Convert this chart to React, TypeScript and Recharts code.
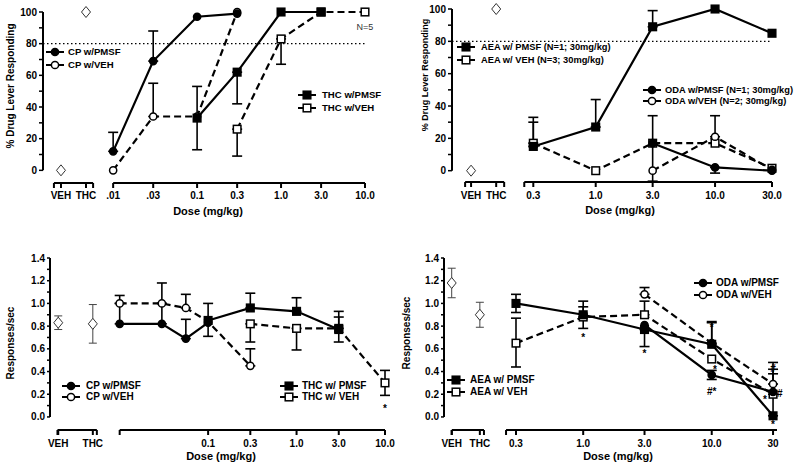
import {
  ComposedChart,
  Line,
  Scatter,
  XAxis,
  YAxis,
  ErrorBar,
  ReferenceLine,
  Legend,
} from "recharts";

const FONT = '"Liberation Sans", Arial, Helvetica, sans-serif';

type Pt = { dose: number; v: number; err?: [number, number]; text?: string; side?: string; plain?: boolean };

// build point rows from parallel arrays (lo/hi = one-sided SEM lengths)
const pts = (dose: number[], v: number[], lo: number[] = [], hi: number[] = []): Pt[] =>
  dose.map((d, i) => {
    const l = lo[i] ?? 0;
    const h = hi[i] ?? 0;
    return l || h ? { dose: d, v: v[i], err: [l, h] } : { dose: d, v: v[i] };
  });

// ---------- A: CP55,940 / THC, % drug lever responding
const aCtrlDose = [0.00239, 0.00475]; // x where the VEH / THC control points sit
const aCtrl = [0, 100];
const aCpDose = [0.01, 0.03, 0.1, 0.3];
const aCpPmsf = [12, 69, 97, 99];
const aCpPmsfHi = [12, 19, 0, 0];
const aCpVeh = [0, 34, 34, 100];
const aCpVehHi = [0, 21, 0, 0];
const aThcPmsfDose = [0.1, 0.3, 1, 3];
const aThcPmsf = [33, 62, 100, 100];
const aThcPmsfLo = [20, 20, 0, 0];
const aThcPmsfHi = [20, 0, 0, 0];
const aThcVehDose = [0.3, 1, 3, 10];
const aThcVeh = [26, 83, 100, 100];
const aThcVehLo = [17, 16, 0, 0];
const aDoseTicks = [0.01, 0.03, 0.1, 0.3, 1, 3, 10];
const aDoseLabels = [".01", ".03", "0.1", "0.3", "1.0", "3.0", "10.0"];

// ---------- B: AEA / ODA, % drug lever responding
const bCtrlDose = [0.0903, 0.1466];
const bCtrl = [0, 100];
const bDose = [0.3, 1, 3, 10, 30];
const bAeaPmsf = [15, 27, 89, 100, 85];
const bAeaPmsfHi = [15, 17, 10, 0, 0];
const bAeaVeh = [17, 0, 17, 17, 1.5];
const bAeaVehHi = [16, 0, 0, 0, 0];
const bOdaDose = [3, 10, 30];
const bOdaPmsf = [17, 2, 0];
const bOdaPmsfLo = [23.5, 3.5, 0];
const bOdaPmsfHi = [17, 0, 0];
const bOdaVeh = [0, 21, 0.5];
const bOdaVehHi = [0, 13, 0];
const bDoseTicks = [0.3, 1, 3, 10, 30];
const bDoseLabels = ["0.3", "1.0", "3.0", "10.0", "30.0"];

// ---------- C: CP55,940 / THC, response rate
const cCtrlDose = [0.00202, 0.00497];
const cCtrl = [0.83, 0.82];
const cCtrlErr = [0.06, 0.17];
const cCpPmsfDose = [0.01, 0.03, 0.056, 0.1];
const cCpPmsf = [0.82, 0.82, 0.69, 0.83];
const cCpPmsfHi = [0.18, 0.18, 0.17, 0];
const cCpVehDose = [0.01, 0.03, 0.056, 0.1, 0.3];
const cCpVeh = [1.0, 1.0, 0.96, 0.84, 0.45];
const cCpVehHi = [0.07, 0.18, 0.12, 0, 0.15];
const cThcPmsfDose = [0.1, 0.3, 1, 3];
const cThcPmsf = [0.85, 0.96, 0.93, 0.77];
const cThcPmsfLo = [0.14, 0, 0, 0.11];
const cThcPmsfHi = [0.15, 0.13, 0.12, 0.11];
const cThcVehDose = [0.3, 1, 3, 10];
const cThcVeh = [0.82, 0.78, 0.78, 0.3];
const cThcVehLo = [0.16, 0.19, 0, 0.11];
const cThcVehHi = [0, 0, 0.15, 0.11];
const cDoseTicks = [0.1, 0.3, 1, 3, 10];
const cDoseLabels = ["0.1", "0.3", "1.0", "3.0", "10.0"];

// ---------- D: AEA / ODA, response rate
const dCtrlDose = [0.0948, 0.157];
const dCtrl = [1.18, 0.9];
const dCtrlErr = [0.13, 0.11];
const dDose = [0.3, 1, 3, 10, 30];
const dAeaPmsf = [1.0, 0.9, 0.77, 0.64, 0.01];
const dAeaPmsfLo = [0.08, 0.12, 0.15, 0, 0];
const dAeaPmsfHi = [0.08, 0.12, 0, 0.2, 0.37];
const dAeaVeh = [0.65, 0.88, 0.9, 0.51, 0.2];
const dAeaVehLo = [0.21, 0, 0, 0, 0];
const dAeaVehHi = [0.22, 0.09, 0.12, 0, 0.22];
const dOdaDose = [3, 10, 30];
const dOdaPmsf = [0.81, 0.37, 0.22];
const dOdaPmsfLo = [0, 0.04, 0];
const dOdaPmsfHi = [0, 0.04, 0];
const dOdaVeh = [1.08, 0.65, 0.29];
const dOdaVehHi = [0.06, 0.18, 0.19];
const dDoseTicks = [0.3, 1, 3, 10, 30];
const dDoseLabels = ["0.3", "1.0", "3.0", "10.0", "30"];
const dNotes: Pt[] = [
  { dose: 1, v: 0.72, text: "*" },
  { dose: 3, v: 0.58, text: "*" },
  { dose: 10, v: 0.81, text: "*" },
  { dose: 10.6, v: 0.44, text: "*" },
  { dose: 10, v: 0.23, text: "#*" },
  { dose: 26, v: 0.17, text: "*" },
  { dose: 30, v: 0.21, text: "#", side: "right" },
  { dose: 30, v: 0.43, text: "#" },
  { dose: 30, v: -0.05, text: "*" },
];

const pctTicks = [0, 10, 20, 30, 40, 50, 60, 70, 80, 90, 100];
const rateTicks = [0, 0.1, 0.2, 0.3, 0.4, 0.5, 0.6, 0.7, 0.8, 0.9, 1.0, 1.1, 1.2, 1.3, 1.4];

type Shape = "circle" | "square";
type Series = { name: string; data: Pt[]; shape: Shape; filled: boolean; dashed: boolean };
type TickSpec = { v: number; label: string; line: boolean };
type LegendGroup = { x: number; y: number; gap: number; textX: number; items: Series[] };

function marker(kind: string, filled: boolean, cx: number, cy: number, key?: string | number) {
  const fill = filled ? "#000" : "#fff";
  if (kind === "circle")
    return <circle key={key} cx={cx} cy={cy} r={3.6} fill={fill} stroke="#000" strokeWidth={1.5} />;
  if (kind === "square")
    return <rect key={key} x={cx - 3.8} y={cy - 3.8} width={7.6} height={7.6} fill={fill} stroke="#000" strokeWidth={1.5} />;
  return (
    <path key={key} d={`M${cx},${cy - 5.5}L${cx + 4.5},${cy}L${cx},${cy + 5.5}L${cx - 4.5},${cy}Z`} fill="#fff" stroke="#333" strokeWidth={1} />
  );
}

const dotFor = (s: Series) => (p: any) =>
  p.cx == null ? <g key={p.index} /> : marker(s.shape, s.filled, p.cx, p.cy, p.index);

const diamond = (p: any) => marker("diamond", false, p.cx, p.cy);

const note = (p: any) => {
  const a: Pt = p.payload;
  const right = a.side === "right";
  const dy = a.plain ? 3.5 : a.text === "*" ? 5.7 : 3.8;
  return (
    <text
      x={p.cx + (right ? 4 : 0)}
      y={p.cy + dy}
      textAnchor={right ? "start" : "middle"}
      fontSize={a.plain ? 9 : 10}
      fontWeight={a.plain ? 400 : 700}
      fill={a.plain ? "#333" : "#000"}
      stroke="none"
    >
      {a.text}
    </text>
  );
};

const axisTicks = (ctrlDose: number[], ends: number[], mainStart: number | null, doses: number[], labels: string[]): TickSpec[] => [
  { v: ends[0], label: "", line: true },
  { v: ctrlDose[0], label: "VEH", line: true },
  { v: ctrlDose[1], label: "THC", line: true },
  { v: ends[1], label: "", line: true },
  ...(mainStart != null ? [{ v: mainStart, label: "", line: true }] : []),
  ...doses.map((v, i) => ({ v, label: labels[i], line: true })),
];

const tickRenderer = (specs: TickSpec[], dy: number) => (p: any) => {
  const s = specs[p.index];
  if (!s) return <g />;
  return (
    <g>
      {s.line && <line x1={p.x} x2={p.x} y1={p.y} y2={p.y + 5} stroke="#000" strokeWidth={2} />}
      {s.label && (
        <text x={p.x} y={p.y + dy} textAnchor="middle" fontSize={10} fontWeight={700} fill="#000">
          {s.label}
        </text>
      )}
    </g>
  );
};

function LegendIcon({ s }: { s: Series }) {
  return (
    <svg width={18} height={12} style={{ display: "block" }}>
      {s.dashed ? (
        <>
          <line x1={0} x2={5} y1={6} y2={6} stroke="#000" strokeWidth={2} />
          <line x1={13} x2={18} y1={6} y2={6} stroke="#000" strokeWidth={2} />
        </>
      ) : (
        <line x1={0} x2={18} y1={6} y2={6} stroke="#000" strokeWidth={2} />
      )}
      {marker(s.shape, s.filled, 9, 6)}
    </svg>
  );
}

function LegendBlock({ groups, size }: { groups: LegendGroup[]; size: number }) {
  return (
    <div style={{ position: "relative", width: 0, height: 0 }}>
      {groups.flatMap((g, gi) =>
        g.items.map((s, i) => {
          const cy = g.y + i * g.gap;
          return (
            <div key={`${gi}-${i}`}>
              <div style={{ position: "absolute", left: g.x, top: cy - 6 }}>
                <LegendIcon s={s} />
              </div>
              <div
                style={{
                  position: "absolute",
                  left: g.textX,
                  top: cy - 7,
                  lineHeight: "14px",
                  fontSize: size,
                  fontWeight: 700,
                  whiteSpace: "nowrap",
                  color: "#000",
                }}
              >
                {s.name}
              </div>
            </div>
          );
        })
      )}
    </div>
  );
}

type PanelCfg = {
  left: number;
  top: number;
  margin: { top: number; right: number; bottom: number; left: number };
  yWidth: number;
  xHeight: number;
  xDomain: [number, number];
  yDomain: [number, number];
  yTicks: number[];
  yFmt: (v: number) => string;
  yTickSize: number;
  yTop: number;
  ticks: TickSpec[];
  tickDy: number;
  segs: [number, number][];
  crit?: number;
  series: Series[];
  ctrl: Pt[];
  notes: Pt[];
  yTitle: { text: string; x: number; y: number; size: number };
  xTitle: { x: number; y: number };
  legend: LegendGroup[];
  legendSize: number;
};

function Panel({ c }: { c: PanelCfg }) {
  const yLabel = () => (
    <text
      x={c.yTitle.x}
      y={c.yTitle.y}
      transform={`rotate(-90 ${c.yTitle.x} ${c.yTitle.y})`}
      textAnchor="middle"
      dominantBaseline="central"
      fontSize={c.yTitle.size}
      fontWeight={700}
      fill="#000"
    >
      {c.yTitle.text}
    </text>
  );
  const xLabel = () => (
    <text x={c.xTitle.x} y={c.xTitle.y} textAnchor="middle" fontSize={11} fontWeight={700} fill="#000">
      Dose (mg/kg)
    </text>
  );
  const x0 = c.xDomain[0];
  const y0 = c.yDomain[0];
  return (
    <div style={{ position: "absolute", left: c.left, top: c.top }}>
      <ComposedChart width={400} height={233} margin={c.margin}>
        <XAxis
          type="number"
          dataKey="dose"
          scale="log"
          domain={c.xDomain}
          ticks={c.ticks.map((t) => t.v)}
          interval={0}
          axisLine={false}
          tickLine={false}
          tickSize={0}
          tickMargin={0}
          height={c.xHeight}
          tick={tickRenderer(c.ticks, c.tickDy)}
          label={xLabel}
        />
        <YAxis
          type="number"
          domain={c.yDomain}
          ticks={c.yTicks}
          interval={0}
          width={c.yWidth}
          axisLine={false}
          tickLine={{ stroke: "#000", strokeWidth: 1.5 }}
          tickSize={c.yTickSize}
          tickMargin={2}
          tick={{ fill: "#000", fontSize: 10, fontWeight: 700 }}
          tickFormatter={c.yFmt}
          label={yLabel}
        />
        <ReferenceLine
          segment={[{ x: x0, y: 0 }, { x: x0, y: c.yTop }]}
          stroke="#000"
          strokeWidth={2}
          ifOverflow="visible"
        />
        {c.segs.map((s, i) => (
          <ReferenceLine
            key={`seg${i}`}
            segment={[{ x: s[0], y: y0 }, { x: s[1], y: y0 }]}
            stroke="#000"
            strokeWidth={2}
            ifOverflow="visible"
          />
        ))}
        {c.crit != null && (
          <ReferenceLine y={c.crit} stroke="#000" strokeWidth={1.2} strokeDasharray="1.5 2.5" />
        )}
        {c.series.map((s) => (
          <Line
            key={s.name}
            data={s.data}
            dataKey="v"
            name={s.name}
            stroke="#000"
            strokeWidth={2.2}
            strokeDasharray={s.dashed ? "7 4" : undefined}
            dot={dotFor(s)}
            activeDot={false}
            legendType="none"
            isAnimationActive={false}
          >
            <ErrorBar dataKey="err" direction="y" width={5} stroke="#000" strokeWidth={1.6} />
          </Line>
        ))}
        <Scatter data={c.ctrl} dataKey="v" shape={diamond} fill="#fff" legendType="none" isAnimationActive={false}>
          <ErrorBar dataKey="err" direction="y" width={4} stroke="#444" strokeWidth={1} />
        </Scatter>
        {c.notes.length > 0 && (
          <Scatter data={c.notes} dataKey="v" shape={note} fill="#000" legendType="none" isAnimationActive={false} />
        )}
        <Legend
          verticalAlign="middle"
          align="center"
          layout="horizontal"
          wrapperStyle={{ left: 0, top: 0, width: 0, height: 0 }}
          content={() => <LegendBlock groups={c.legend} size={c.legendSize} />}
        />
      </ComposedChart>
    </div>
  );
}

// series definitions
const aS = {
  cpPmsf: { name: "CP w/PMSF", data: pts(aCpDose, aCpPmsf, [], aCpPmsfHi), shape: "circle", filled: true, dashed: false } as Series,
  cpVeh: { name: "CP w/VEH", data: pts(aCpDose, aCpVeh, [], aCpVehHi), shape: "circle", filled: false, dashed: true } as Series,
  thcPmsf: { name: "THC w/PMSF", data: pts(aThcPmsfDose, aThcPmsf, aThcPmsfLo, aThcPmsfHi), shape: "square", filled: true, dashed: false } as Series,
  thcVeh: { name: "THC w/VEH", data: pts(aThcVehDose, aThcVeh, aThcVehLo), shape: "square", filled: false, dashed: true } as Series,
};
const bS = {
  aeaPmsf: { name: "AEA w/ PMSF (N=1; 30mg/kg)", data: pts(bDose, bAeaPmsf, [], bAeaPmsfHi), shape: "square", filled: true, dashed: false } as Series,
  aeaVeh: { name: "AEA w/ VEH (N=3; 30mg/kg)", data: pts(bDose, bAeaVeh, [], bAeaVehHi), shape: "square", filled: false, dashed: true } as Series,
  odaPmsf: { name: "ODA w/PMSF (N=1; 30mg/kg)", data: pts(bOdaDose, bOdaPmsf, bOdaPmsfLo, bOdaPmsfHi), shape: "circle", filled: true, dashed: false } as Series,
  odaVeh: { name: "ODA w/VEH (N=2; 30mg/kg)", data: pts(bOdaDose, bOdaVeh, [], bOdaVehHi), shape: "circle", filled: false, dashed: true } as Series,
};
const cS = {
  cpPmsf: { name: "CP w/PMSF", data: pts(cCpPmsfDose, cCpPmsf, [], cCpPmsfHi), shape: "circle", filled: true, dashed: false } as Series,
  cpVeh: { name: "CP w/VEH", data: pts(cCpVehDose, cCpVeh, [], cCpVehHi), shape: "circle", filled: false, dashed: true } as Series,
  thcPmsf: { name: "THC w/ PMSF", data: pts(cThcPmsfDose, cThcPmsf, cThcPmsfLo, cThcPmsfHi), shape: "square", filled: true, dashed: false } as Series,
  thcVeh: { name: "THC w/ VEH", data: pts(cThcVehDose, cThcVeh, cThcVehLo, cThcVehHi), shape: "square", filled: false, dashed: true } as Series,
};
const dS = {
  odaPmsf: { name: "ODA w/PMSF", data: pts(dOdaDose, dOdaPmsf, dOdaPmsfLo, dOdaPmsfHi), shape: "circle", filled: true, dashed: false } as Series,
  odaVeh: { name: "ODA w/VEH", data: pts(dOdaDose, dOdaVeh, [], dOdaVehHi), shape: "circle", filled: false, dashed: true } as Series,
  aeaPmsf: { name: "AEA w/ PMSF", data: pts(dDose, dAeaPmsf, dAeaPmsfLo, dAeaPmsfHi), shape: "square", filled: true, dashed: false } as Series,
  aeaVeh: { name: "AEA w/ VEH", data: pts(dDose, dAeaVeh, dAeaVehLo, dAeaVehHi), shape: "square", filled: false, dashed: true } as Series,
};

const pctFmt = (v: number) => (v % 20 === 0 ? String(v) : "");
const rateFmt = (v: number) => (Math.round(v * 10) % 2 === 0 ? v.toFixed(1) : "");

const panels: PanelCfg[] = [
  {
    left: 0,
    top: 0,
    margin: { top: 12, right: 35, bottom: 16, left: 3 },
    yWidth: 40,
    xHeight: 34,
    xDomain: [0.00146, 10],
    yDomain: [-8, 100],
    yTicks: pctTicks,
    yFmt: pctFmt,
    yTickSize: 4,
    yTop: 100,
    ticks: axisTicks(aCtrlDose, [0.00197, 0.00577], null, aDoseTicks, aDoseLabels),
    tickDy: 16,
    segs: [[0.00197, 0.00577], [0.01, 10]],
    crit: 80,
    series: [aS.cpVeh, aS.thcVeh, aS.cpPmsf, aS.thcPmsf],
    ctrl: pts(aCtrlDose, aCtrl),
    notes: [{ dose: 10, v: 91, text: "N=5", plain: true }],
    yTitle: { text: "% Drug Lever Responding", x: 10, y: 86, size: 10 },
    xTitle: { x: 208, y: 215 },
    legend: [
      { x: 46, y: 52, gap: 12.6, textX: 68, items: [aS.cpPmsf, aS.cpVeh] },
      { x: 298, y: 95, gap: 13, textX: 322, items: [aS.thcPmsf, aS.thcVeh] },
    ],
    legendSize: 9.6,
  },
  {
    left: 400,
    top: 0,
    margin: { top: 9, right: 28, bottom: 17, left: 4 },
    yWidth: 48,
    xHeight: 34,
    xDomain: [0.0625, 30],
    yDomain: [-7, 100],
    yTicks: pctTicks,
    yFmt: pctFmt,
    yTickSize: 4,
    yTop: 100,
    ticks: axisTicks(bCtrlDose, [0.0805, 0.171], 0.252, bDoseTicks, bDoseLabels),
    tickDy: 17,
    segs: [[0.0805, 0.171], [0.252, 30]],
    crit: 80,
    series: [bS.aeaVeh, bS.odaVeh, bS.odaPmsf, bS.aeaPmsf],
    ctrl: pts(bCtrlDose, bCtrl),
    notes: [],
    yTitle: { text: "% Drug Lever Responding", x: 25, y: 75, size: 9 },
    xTitle: { x: 220, y: 214 },
    legend: [
      { x: 57, y: 47, gap: 13, textX: 81, items: [bS.aeaPmsf, bS.aeaVeh] },
      { x: 243, y: 89.5, gap: 11.7, textX: 265, items: [bS.odaPmsf, bS.odaVeh] },
    ],
    legendSize: 9.3,
  },
  {
    left: 0,
    top: 233,
    margin: { top: 25, right: 15, bottom: 6, left: 4 },
    yWidth: 46,
    xHeight: 30,
    xDomain: [0.00163, 10],
    yDomain: [-0.115, 1.4],
    yTicks: rateTicks,
    yFmt: rateFmt,
    yTickSize: 3,
    yTop: 1.4,
    ticks: axisTicks(cCtrlDose, [0.00198, 0.00552], 0.01, cDoseTicks, cDoseLabels),
    tickDy: 17,
    segs: [[0.00198, 0.00552], [0.01, 10]],
    series: [cS.cpVeh, cS.thcVeh, cS.cpPmsf, cS.thcPmsf],
    ctrl: pts(cCtrlDose, cCtrl, cCtrlErr, cCtrlErr),
    notes: [{ dose: 10, v: 0.09, text: "*" }],
    yTitle: { text: "Responses/sec", x: 10, y: 110, size: 10 },
    xTitle: { x: 221, y: 227 },
    legend: [
      { x: 62, y: 152.7, gap: 11, textX: 86, items: [cS.cpPmsf, cS.cpVeh] },
      { x: 280, y: 152.5, gap: 11.3, textX: 302, items: [cS.thcPmsf, cS.thcVeh] },
    ],
    legendSize: 10,
  },
  {
    left: 400,
    top: 233,
    margin: { top: 25, right: 23, bottom: 6, left: 4 },
    yWidth: 40,
    xHeight: 30,
    xDomain: [0.0826, 32.2],
    yDomain: [-0.115, 1.4],
    yTicks: rateTicks,
    yFmt: rateFmt,
    yTickSize: 3,
    yTop: 1.4,
    ticks: axisTicks(dCtrlDose, [0.095, 0.169], 0.251, dDoseTicks, dDoseLabels),
    tickDy: 16.5,
    segs: [[0.095, 0.169], [0.251, 32.2]],
    series: [dS.aeaVeh, dS.odaVeh, dS.aeaPmsf, dS.odaPmsf],
    ctrl: pts(dCtrlDose, dCtrl, dCtrlErr, dCtrlErr),
    notes: dNotes,
    yTitle: { text: "Responses/sec", x: 6, y: 100, size: 10 },
    xTitle: { x: 218, y: 227 },
    legend: [
      { x: 294, y: 49.5, gap: 12, textX: 316, items: [dS.odaPmsf, dS.odaVeh] },
      { x: 47, y: 147, gap: 11.5, textX: 70, items: [dS.aeaPmsf, dS.aeaVeh] },
    ],
    legendSize: 10,
  },
];

export default function App() {
  return (
    <div
      style={{
        position: "absolute",
        left: 0,
        top: 0,
        width: 800,
        height: 466,
        background: "#fff",
        fontFamily: FONT,
        overflow: "hidden",
      }}
    >
      {panels.map((c, i) => (
        <Panel key={i} c={c} />
      ))}
    </div>
  );
}
